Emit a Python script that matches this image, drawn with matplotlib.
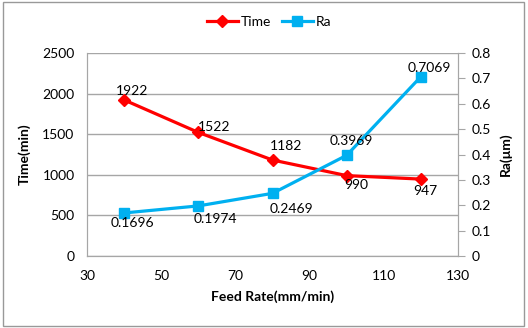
import numpy as np
import matplotlib.pyplot as plt

plt.rcParams['font.family'] = ['Lato', 'DejaVu Sans']

feed = [40, 60, 80, 100, 120]
time_min = [1922, 1522, 1182, 990, 947]
ra = [0.1696, 0.1974, 0.2469, 0.3969, 0.7069]

# label offsets in points, relative to each marker
time_offsets = [(6, 6.5), (11.5, 4), (9.5, 10), (7, -7), (3, -8.5)]
ra_offsets = [(6, -7), (12, -9.5), (13.5, -11), (3, 10), (6, 6.5)]

red = '#ff0000'
blue = '#00b0f0'
grey = '#a6a6a6'

fig = plt.figure(figsize=(5.28, 3.28), dpi=100)
ax = fig.add_axes([87 / 528, 1 - 256 / 328, 371 / 528, 203 / 328])
ax2 = ax.twinx()

l1, = ax.plot(feed, time_min, color=red, lw=2.3, marker='D', ms=6.5, label='Time', zorder=3)
l2, = ax2.plot(feed, ra, color=blue, lw=2.3, marker='s', ms=7.5, label='Ra', zorder=3)

for x, y, (dx, dy) in zip(feed, time_min, time_offsets):
    ax.annotate(str(y), (x, y), xytext=(dx, dy), textcoords='offset points',
                ha='center', va='center', fontsize=10)
for x, y, (dx, dy) in zip(feed, ra, ra_offsets):
    ax2.annotate(f'{y:.4f}', (x, y), xytext=(dx, dy), textcoords='offset points',
                 ha='center', va='center', fontsize=10)

ax.set_xlim(30, 130)
ax.set_xticks(np.arange(30, 131, 20))
ax.set_ylim(0, 2500)
ax.set_yticks(np.arange(0, 2501, 500))
ax2.set_ylim(0, 0.8)
ax2.set_yticks(np.arange(0, 0.81, 0.1))
ax2.set_yticklabels(['0'] + [f'{v:.1f}' for v in np.arange(0.1, 0.81, 0.1)])

ax.grid(axis='y', color=grey, lw=1)
ax.set_axisbelow(True)
for a in (ax, ax2):
    for s in a.spines.values():
        s.set_color(grey)
ax.spines['top'].set_visible(False)
ax2.spines['top'].set_visible(False)
ax.tick_params(axis='both', length=0, labelsize=10, pad=9)
ax.tick_params(axis='x', pad=10)
ax2.tick_params(axis='y', length=5, color=grey, labelsize=10, pad=5)

ax.set_xlabel('Feed Rate(mm/min)', fontsize=10, fontweight='bold', labelpad=6)
ax.set_ylabel('Time(min)', fontsize=10, fontweight='bold', labelpad=8)
ax2.set_ylabel('Ra(μm)', fontsize=10, fontweight='bold', labelpad=6)

fig.legend(handles=[l1, l2], loc='center', bbox_to_anchor=(269 / 528, 1 - 22 / 328),
           ncol=2, frameon=False, fontsize=10, handlelength=2.2, columnspacing=0.8,
           handletextpad=0.2)

fig.patches.append(plt.Rectangle((3 / 528, 2 / 328), 521 / 528, 324 / 328,
                                 transform=fig.transFigure, fill=False,
                                 edgecolor='#999999', lw=1))

fig.savefig('out.png', dpi=100)
